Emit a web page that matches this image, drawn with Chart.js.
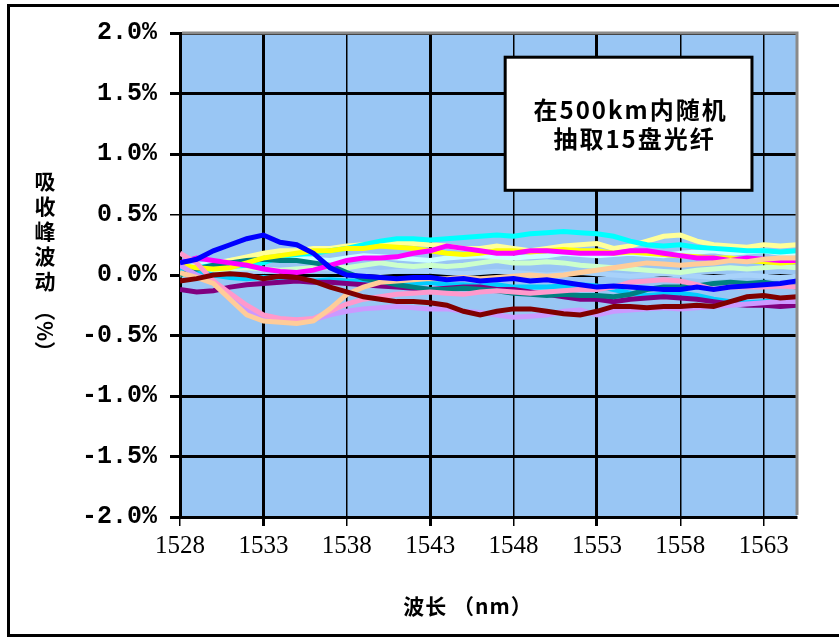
<!DOCTYPE html>
<html>
<head>
<meta charset="utf-8">
<script src="https://cdn.jsdelivr.net/npm/chart.js@4.4.1/dist/chart.umd.min.js"></script>
<style>
  html, body { margin: 0; padding: 0; background: #fff; overflow: hidden; }
  #wrap { position: relative; width: 839px; height: 638px; }
  #frame { position: absolute; left: 7px; top: 4px; width: 900px; height: 627px; border: 3px solid #000; pointer-events: none; }
  canvas { position: absolute; left: 0; top: 0; }
</style>
</head>
<body>
<div id="wrap">
  <canvas id="myChart" width="839" height="638"></canvas>
  <div id="frame"></div>
</div>
<script>
// wavelength (nm), one point per nm
const wavelengths = [1528, 1529, 1530, 1531, 1532, 1533, 1534, 1535, 1536, 1537, 1538, 1539, 1540, 1541, 1542, 1543, 1544, 1545, 1546, 1547, 1548, 1549, 1550, 1551, 1552, 1553, 1554, 1555, 1556, 1557, 1558, 1559, 1560, 1561, 1562, 1563, 1564, 1565];
const xTicks = [1528, 1533, 1538, 1543, 1548, 1553, 1558, 1563];
const yTicks = [-2, -1.5, -1, -0.5, 0, 0.5, 1, 1.5, 2];

// absorption peak drift (%), 15 fibres
const fibreBlue = [0.10, 0.13, 0.20, 0.25, 0.30, 0.33, 0.27, 0.25, 0.18, 0.06, 0.00, -0.01, -0.02, -0.03, -0.02, -0.02, -0.04, -0.03, -0.05, -0.04, -0.03, -0.05, -0.04, -0.06, -0.08, -0.10, -0.09, -0.10, -0.11, -0.12, -0.12, -0.10, -0.12, -0.10, -0.09, -0.08, -0.07, -0.05];
const fibreDarkRed = [-0.05, -0.03, 0.00, 0.01, 0.00, -0.03, -0.01, -0.02, -0.05, -0.10, -0.14, -0.18, -0.20, -0.22, -0.22, -0.23, -0.25, -0.30, -0.33, -0.30, -0.28, -0.28, -0.30, -0.32, -0.33, -0.30, -0.26, -0.26, -0.27, -0.26, -0.26, -0.25, -0.26, -0.22, -0.18, -0.17, -0.19, -0.18];
const fibreTan = [0.02, -0.02, -0.07, -0.20, -0.33, -0.38, -0.39, -0.40, -0.38, -0.28, -0.16, -0.10, -0.06, -0.05, -0.04, -0.03, -0.03, -0.02, -0.03, -0.02, -0.01, 0.00, -0.01, 0.00, 0.02, 0.04, 0.06, 0.08, 0.10, 0.09, 0.08, 0.09, 0.10, 0.12, 0.11, 0.13, 0.14, 0.14];
const fibrePink = [0.18, 0.10, -0.05, -0.15, -0.25, -0.33, -0.36, -0.37, -0.36, -0.30, -0.24, -0.20, -0.18, -0.16, -0.15, -0.14, -0.15, -0.16, -0.14, -0.13, -0.14, -0.15, -0.14, -0.13, -0.12, -0.12, -0.10, -0.06, -0.05, -0.04, -0.05, -0.08, -0.12, -0.10, -0.10, -0.10, -0.09, -0.10];
const fibreLavender = [0.08, 0.00, -0.05, -0.20, -0.30, -0.36, -0.37, -0.37, -0.37, -0.33, -0.30, -0.28, -0.27, -0.26, -0.27, -0.28, -0.28, -0.30, -0.31, -0.33, -0.35, -0.34, -0.33, -0.30, -0.29, -0.33, -0.30, -0.29, -0.28, -0.27, -0.28, -0.27, -0.26, -0.25, -0.24, -0.23, -0.22, -0.22];
const fibreMagenta = [0.10, 0.14, 0.12, 0.10, 0.08, 0.05, 0.03, 0.02, 0.04, 0.08, 0.12, 0.14, 0.14, 0.15, 0.18, 0.20, 0.24, 0.22, 0.20, 0.18, 0.18, 0.20, 0.20, 0.19, 0.18, 0.18, 0.18, 0.20, 0.20, 0.18, 0.16, 0.14, 0.14, 0.12, 0.14, 0.13, 0.12, 0.12];
const fibreYellow = [0.08, 0.06, 0.05, 0.06, 0.10, 0.14, 0.16, 0.18, 0.20, 0.20, 0.22, 0.22, 0.24, 0.23, 0.22, 0.20, 0.18, 0.17, 0.18, 0.20, 0.20, 0.19, 0.20, 0.21, 0.20, 0.20, 0.18, 0.19, 0.18, 0.17, 0.16, 0.15, 0.14, 0.14, 0.12, 0.11, 0.10, 0.11];
const fibreTeal = [0.00, 0.05, 0.08, 0.10, 0.12, 0.13, 0.12, 0.12, 0.10, 0.08, 0.02, -0.03, -0.05, -0.08, -0.10, -0.12, -0.12, -0.11, -0.12, -0.13, -0.15, -0.16, -0.17, -0.16, -0.17, -0.17, -0.18, -0.16, -0.12, -0.10, -0.10, -0.09, -0.07, -0.06, -0.07, -0.06, -0.08, -0.10];
const fibrePurple = [-0.12, -0.14, -0.13, -0.10, -0.08, -0.07, -0.06, -0.05, -0.06, -0.06, -0.07, -0.08, -0.09, -0.10, -0.11, -0.12, -0.11, -0.10, -0.10, -0.12, -0.12, -0.14, -0.16, -0.18, -0.20, -0.20, -0.22, -0.20, -0.19, -0.18, -0.19, -0.20, -0.22, -0.24, -0.25, -0.25, -0.26, -0.25];
const fibreSkyBlue = [0.05, 0.03, 0.00, -0.02, -0.03, -0.02, -0.03, -0.04, -0.05, -0.04, -0.05, -0.05, -0.06, -0.06, -0.07, -0.06, -0.08, -0.08, -0.09, -0.08, -0.10, -0.10, -0.10, -0.09, -0.08, -0.09, -0.12, -0.15, -0.17, -0.16, -0.15, -0.17, -0.20, -0.22, -0.23, -0.22, -0.21, -0.20];
const fibreCyan = [0.05, 0.06, 0.08, 0.07, 0.08, 0.10, 0.15, 0.17, 0.18, 0.20, 0.22, 0.25, 0.28, 0.30, 0.30, 0.29, 0.30, 0.31, 0.32, 0.33, 0.32, 0.34, 0.35, 0.36, 0.35, 0.34, 0.32, 0.28, 0.25, 0.24, 0.25, 0.23, 0.22, 0.21, 0.20, 0.20, 0.19, 0.20];
const fibreLightYellow = [0.02, 0.04, 0.08, 0.12, 0.15, 0.18, 0.20, 0.20, 0.22, 0.22, 0.24, 0.25, 0.26, 0.27, 0.26, 0.25, 0.24, 0.22, 0.22, 0.24, 0.22, 0.20, 0.22, 0.24, 0.25, 0.26, 0.22, 0.24, 0.28, 0.32, 0.33, 0.28, 0.25, 0.24, 0.23, 0.25, 0.24, 0.25];
const fibreTurquoise = [0.05, 0.08, 0.10, 0.12, 0.13, 0.14, 0.15, 0.14, 0.13, 0.12, 0.14, 0.16, 0.15, 0.14, 0.13, 0.12, 0.14, 0.15, 0.16, 0.15, 0.14, 0.15, 0.16, 0.18, 0.17, 0.16, 0.17, 0.18, 0.17, 0.16, 0.18, 0.19, 0.20, 0.18, 0.19, 0.20, 0.18, 0.18];
const fibreLightGreen = [0.00, 0.02, 0.04, 0.05, 0.06, 0.05, 0.04, 0.05, 0.06, 0.07, 0.06, 0.08, 0.10, 0.08, 0.07, 0.08, 0.07, 0.08, 0.10, 0.12, 0.10, 0.10, 0.11, 0.10, 0.08, 0.07, 0.06, 0.05, 0.04, 0.03, 0.02, 0.04, 0.05, 0.06, 0.05, 0.06, 0.07, 0.06];
const fibrePaleBlue = [0.04, 0.05, 0.06, 0.05, 0.04, 0.03, 0.04, 0.05, 0.06, 0.05, 0.04, 0.03, 0.02, 0.03, 0.04, 0.03, 0.02, 0.01, 0.02, 0.03, 0.02, 0.01, 0.00, 0.01, 0.02, 0.01, 0.00, -0.01, 0.00, 0.01, 0.00, -0.01, -0.02, -0.01, 0.00, -0.01, -0.02, -0.01];

// first in list is drawn on top
const series = [
  [fibreBlue, "#0000ff"],
  [fibreDarkRed, "#800000"],
  [fibreTan, "#ffcc99"],
  [fibrePink, "#ff99cc"],
  [fibreLavender, "#cc99ff"],
  [fibreMagenta, "#ff00ff"],
  [fibreYellow, "#ffff00"],
  [fibreTeal, "#008080"],
  [fibrePurple, "#800080"],
  [fibreSkyBlue, "#00ccff"],
  [fibreCyan, "#00ffff"],
  [fibreLightYellow, "#ffff99"],
  [fibreTurquoise, "#ccffff"],
  [fibreLightGreen, "#ccffcc"],
  [fibrePaleBlue, "#a8d2fa"],
];

const yTitle = "吸收峰波动";
const yUnit = "（%）";
const xTitle = "波长 （nm）";
const noteLines = ["在500km内随机", "抽取15盘光纤"];
const thickX = [1533, 1543, 1553];

const chartDecor = {
  id: "chartDecor",
  beforeDraw(chart) {
    const { ctx, chartArea: a } = chart;
    ctx.save();
    ctx.fillStyle = "#99c6f4";
    ctx.fillRect(a.left, a.top, a.right - a.left, a.bottom - a.top);
    ctx.restore();
  },
  afterDatasetsDraw(chart) {
    const { ctx, chartArea: a, scales } = chart;
    ctx.save();
    // plot area border, top and right
    ctx.strokeStyle = "#8a8a8a";
    ctx.lineWidth = 3;
    ctx.beginPath();
    ctx.moveTo(a.left + 2, a.top);
    ctx.lineTo(a.right, a.top);
    ctx.lineTo(a.right, a.bottom - 2);
    ctx.stroke();

    // note box
    const bx0 = scales.x.getPixelForValue(1547.5);
    const bx1 = scales.x.getPixelForValue(1562.3);
    const by0 = scales.y.getPixelForValue(1.8);
    const by1 = scales.y.getPixelForValue(0.7);
    ctx.fillStyle = "#fff";
    ctx.fillRect(bx0, by0, bx1 - bx0, by1 - by0);
    ctx.strokeStyle = "#000";
    ctx.lineWidth = 3;
    ctx.strokeRect(bx0, by0, bx1 - bx0, by1 - by0);
    ctx.fillStyle = "#000";
    ctx.font = "bold 24px 'Noto Sans CJK SC'";
    ctx.letterSpacing = "2px";
    ctx.textAlign = "center";
    ctx.textBaseline = "middle";
    const cx = (bx0 + bx1) / 2 + 2;
    ctx.fillText(noteLines[0], cx, by0 + 53);
    ctx.fillText(noteLines[1], cx + 4, by0 + 82);
    ctx.restore();
  },
  afterDraw(chart) {
    const { ctx } = chart;
    ctx.save();
    ctx.fillStyle = "#000";
    ctx.textAlign = "center";
    ctx.textBaseline = "middle";
    ctx.font = "bold 21px 'Noto Sans CJK SC'";
    [...yTitle].forEach((c, i) => ctx.fillText(c, 45, 181 + i * 25));
    ctx.save();
    ctx.translate(45, 331);
    ctx.rotate(Math.PI / 2);
    ctx.fillText(yUnit, 0, 0);
    ctx.restore();

    ctx.letterSpacing = "1px";
    ctx.fillText(xTitle, 468, 606);
    ctx.restore();
  },
};

const myChart = document.querySelector("#myChart");
const chart = new Chart(myChart, {
  type: "line",
  data: {
    datasets: series.map(([vals, color]) => ({
      data: vals.map((v, i) => ({ x: wavelengths[i], y: v })),
      borderColor: color,
      backgroundColor: color,
      borderWidth: 5,
      pointRadius: 0,
      tension: 0,
      fill: false,
    })),
  },
  options: {
    responsive: false,
    animation: false,
    devicePixelRatio: 1,
    layout: { padding: { top: 33, right: 42, left: 0, bottom: 0 } },
    plugins: { legend: { display: false }, tooltip: { enabled: false } },
    scales: {
      x: {
        type: "linear",
        min: 1528,
        max: 1565,
        afterBuildTicks(axis) {
          axis.ticks = xTicks.map((v) => ({ value: v }));
        },
        afterFit(scale) {
          scale.height = 121;
        },
        grid: {
          color: "#000",
          lineWidth: (c) => (c.tick && thickX.includes(c.tick.value) ? 3 : 1.5),
          tickLength: 9,
        },
        border: { color: "#000", width: 3 },
        ticks: {
          autoSkip: false,
          maxRotation: 0,
          padding: 5,
          color: "#000",
          font: { family: "'Liberation Serif'", size: 25 },
          callback: (v) => String(v),
        },
      },
      y: {
        min: -2,
        max: 2,
        afterBuildTicks(axis) {
          axis.ticks = yTicks.map((v) => ({ value: v }));
        },
        afterFit(scale) {
          scale.width = 180;
        },
        grid: {
          color: "#000",
          lineWidth: (c) => (c.tick && c.tick.value === 0.5 ? 1.5 : 3),
          tickLength: 10,
        },
        border: { color: "#000", width: 3 },
        ticks: {
          padding: 13,
          color: "#000",
          font: { family: "'Liberation Mono'", size: 25, weight: "bold" },
          callback: (v) => v.toFixed(1) + "%",
        },
      },
    },
  },
  plugins: [chartDecor],
});
</script>
</body>
</html>
